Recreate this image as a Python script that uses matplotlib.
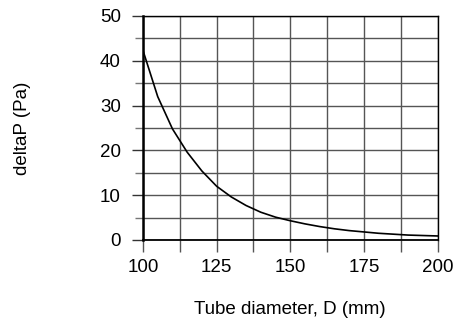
import numpy as np
import matplotlib
matplotlib.use("Agg")
import matplotlib.pyplot as plt

# tube diameter (mm) and pressure drop (Pa)
diameter = [100, 105, 110, 115, 120, 125, 130, 135, 140, 145, 150,
            155, 160, 165, 170, 175, 180, 185, 190, 195, 200]
delta_p = [42.3, 32.0, 24.8, 19.6, 15.4, 12.0, 9.6, 7.7, 6.2, 5.1, 4.3,
           3.6, 3.0, 2.5, 2.1, 1.8, 1.5, 1.3, 1.1, 1.0, 0.9]

x_major = [100, 125, 150, 175, 200]
x_minor = [112.5, 137.5, 162.5, 187.5]
y_major = [0, 10, 20, 30, 40, 50]
y_minor = [5, 15, 25, 35, 45]

plt.rcParams['font.family'] = ['Liberation Sans', 'DejaVu Sans']

fig = plt.figure(figsize=(4.55, 3.22), dpi=100)
ax = fig.add_axes([143/455, 1 - 240/322, (437.5 - 143)/455, (240 - 16)/322])

ax.plot(diameter, delta_p, color='black', lw=1.2, zorder=3)

ax.set_xlim(100, 200)
ax.set_ylim(0, 50)
ax.set_xticks(x_major)
ax.set_xticks(x_minor, minor=True)
ax.set_yticks(y_major)
ax.set_yticks(y_minor, minor=True)

ax.grid(True, which='both', color='#555555', lw=1.0)

for s in ax.spines.values():
    s.set_color('black')
    s.set_linewidth(1.0)
ax.spines['left'].set_linewidth(1.8)
ax.spines['bottom'].set_linewidth(1.3)

ax.tick_params(axis='x', which='both', length=8.6, width=1.0, color='#555555',
               labelsize=13.5, pad=5)
ax.tick_params(axis='y', which='major', length=8, width=1.0, color='#333333',
               labelsize=13.5, pad=8)
ax.tick_params(axis='y', which='minor', length=5.8, width=1.0, color='#777777')

fig.text(290/455, 1 - 309/322, 'Tube diameter, D (mm)', ha='center', va='center',
         fontsize=13.5)
fig.text(23/455, 1 - 128/322, 'deltaP (Pa)', ha='center', va='center',
         rotation=90, fontsize=13.5)

fig.savefig('out.png', dpi=100)
